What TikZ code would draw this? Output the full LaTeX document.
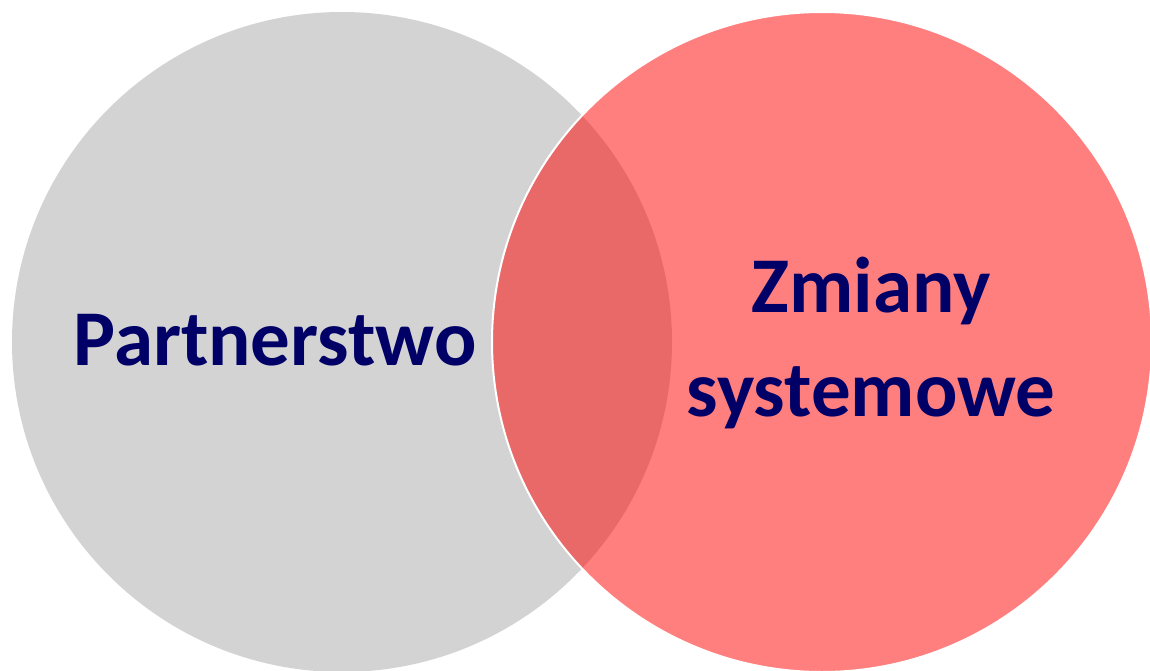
\documentclass[tikz,border=0pt]{standalone}
\usepackage{fontspec}
\setmainfont{Carlito}
\usepackage{xcolor}
\definecolor{navy}{RGB}{0,0,102}
\definecolor{lightgray}{RGB}{211,211,211}

\begin{document}
\begin{tikzpicture}[x=1pt, y=-1pt,
	label/.style={text=navy, font=\fontsize{79}{104}\selectfont\bfseries, align=center}]

\useasboundingbox (0,0) rectangle (1150,671);

\node[circle, fill=lightgray, minimum size=660pt, inner sep=0] (partner) at (342,342) {};
\node[circle, fill=red, fill opacity=0.5, draw=white, line width=2pt, minimum size=660pt, inner sep=0] (zmiany) at (822,342) {};

\node[label] (tpartner) at (275,340) {Partnerstwo};
\node[label] (tzmiany) at (871,343) {Zmiany\\systemowe};
\end{tikzpicture}
\end{document}
